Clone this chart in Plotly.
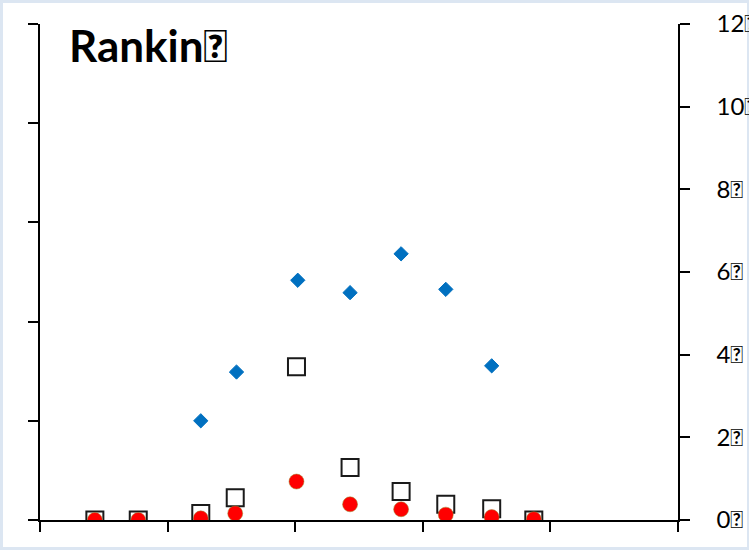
import plotly.graph_objects as go

TOFU = "\ue000"

# x positions of the measurements (axis 0..5, no labels shown)
x_all = [0.43, 0.77, 1.26, 1.53, 2.01, 2.43, 2.83, 3.18, 3.54, 3.87]
x_blue = [1.26, 1.54, 2.02, 2.43, 2.83, 3.18, 3.54]

blue_values = [2.40, 3.58, 5.80, 5.50, 6.44, 5.58, 3.73]
square_values = [0.0, 0.0, 0.16, 0.54, 3.71, 1.27, 0.69, 0.38, 0.27, 0.0]
red_values = [0.0, 0.0, 0.04, 0.16, 0.93, 0.38, 0.26, 0.13, 0.07, 0.02]

left_tick_vals = [0, 1, 2, 3, 4, 5]
x_tick_vals = [0, 1, 2, 3, 4, 5]
right_tick_vals = [0, 2, 4, 6, 8, 10, 12]
right_tick_text = [f"{v}{TOFU}" for v in right_tick_vals]
title_text = "Rankin" + TOFU

FONT = "Lato"

fig = go.Figure()
# anchor trace for the left (primary) axis so it is drawn
fig.add_trace(go.Scatter(x=[None], y=[None], mode="markers", showlegend=False,
                         hoverinfo="skip"))
fig.add_trace(go.Scatter(
    x=x_blue, y=blue_values, yaxis="y2", mode="markers",
    marker=dict(symbol="diamond", size=11, color="#0070C0",
                line=dict(color="#0070C0", width=1)),
    showlegend=False,
))
fig.add_trace(go.Scatter(
    x=x_all, y=square_values, yaxis="y2", mode="markers",
    marker=dict(symbol="square", size=17, color="#FFFFFF",
                line=dict(color="#1a1a1a", width=2)),
    showlegend=False,
))
fig.add_trace(go.Scatter(
    x=x_all, y=red_values, yaxis="y2", mode="markers",
    marker=dict(symbol="circle", size=15, color="#FF0000",
                line=dict(color="#9a8a30", width=0.5)),
    showlegend=False,
))

axis_common = dict(
    showgrid=False, zeroline=False, showline=True, linecolor="black",
    linewidth=1.5, ticks="outside", ticklen=10, tickwidth=1.5,
    tickcolor="black", fixedrange=True, automargin=False,
)

fig.update_layout(
    template="none",
    width=749, height=550,
    margin=dict(l=40, r=71, t=24, b=30, pad=0),
    paper_bgcolor="#DCE6F2",
    plot_bgcolor="white",
    font=dict(family=FONT, color="black"),
    xaxis=dict(range=[0, 5], tickvals=x_tick_vals, showticklabels=False,
               **axis_common),
    yaxis=dict(range=[0, 5], tickvals=left_tick_vals, showticklabels=False,
               **axis_common),
    yaxis2=dict(range=[0, 12], tickvals=right_tick_vals, ticktext=right_tick_text,
                overlaying="y", side="right", tickfont=dict(size=24, family=FONT),
                ticklabelstandoff=22, **axis_common),
    shapes=[dict(type="rect", xref="paper", yref="paper", layer="below",
                 x0=(3 - 40) / 638, x1=(747 - 40) / 638,
                 y0=(520 - 547) / 496, y1=(520 - 3) / 496,
                 fillcolor="white", line=dict(width=0))],
    annotations=[dict(text=f"<b>{title_text}</b>", xref="paper", yref="paper",
                      x=(67 - 40) / 638, y=(520 - 45) / 496,
                      xanchor="left", yanchor="middle", showarrow=False,
                      font=dict(size=44, family=FONT, color="black"))],
)

fig.write_html(
    "out.html",
    config={"displayModeBar": False},
    post_script="document.body.style.margin='0';document.body.style.overflow='hidden';",
)
